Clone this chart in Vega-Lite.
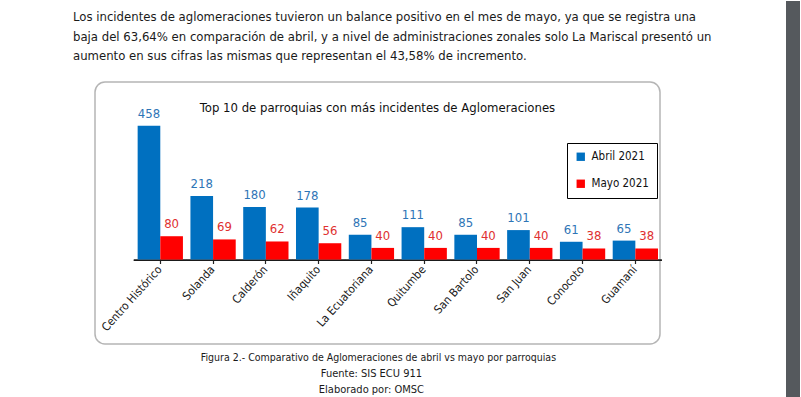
{
  "$schema": "https://vega.github.io/schema/vega-lite/v6.json",
  "background": "white",
  "padding": {"left": 73, "top": 0, "right": 0, "bottom": 0},
  "config": {
    "font": "DejaVu Sans Condensed",
    "concat": {"spacing": 0},
    "view": {"stroke": null}
  },
  "spacing": 73,
  "hconcat": [
    {
      "spacing": 18,
      "vconcat": [
        {
          "width": 565,
          "height": 1,
          "title": {
            "text": [
              "Los incidentes de aglomeraciones tuvieron un balance positivo en el mes de mayo, ya que se registra una",
              "baja del 63,64% en comparación de abril, y a nivel de administraciones zonales solo La Mariscal presentó un",
              "aumento en sus cifras las mismas que representan el 43,58% de incremento."
            ],
            "orient": "bottom",
            "anchor": "start",
            "frame": "group",
            "dx": -22,
            "fontSize": 13,
            "fontWeight": "normal",
            "lineHeight": 19.5,
            "color": "#1a1a1a",
            "offset": 9
          },
          "data": {"values": [{"vacio": 0}]},
          "mark": {"type": "rule", "opacity": 0},
          "encoding": {}
        },
        {
          "title": {
            "text": ["Fuente: SIS ECU 911", "Elaborado por: OMSC"],
            "orient": "bottom",
            "anchor": "middle",
            "dx": -7,
            "fontSize": 11,
            "fontWeight": "normal",
            "lineHeight": 16,
            "color": "#1a1a1a",
            "offset": 5
          },
          "vconcat": [
            {
              "title": {
                "text": "Figura 2.- Comparativo de Aglomeraciones de abril vs mayo por parroquias",
                "orient": "bottom",
                "anchor": "middle",
                "fontSize": 10.5,
                "fontWeight": "normal",
                "color": "#1a1a1a",
                "offset": 8
              },
              "vconcat": [
                {
                  "width": 565,
                  "height": 262,
                  "view": {"stroke": "#b5b5b5", "strokeWidth": 1.5, "cornerRadius": 10, "fill": "white"},
                  "title": {
                    "text": "Top 10 de parroquias con más incidentes de Aglomeraciones",
                    "anchor": "middle",
                    "offset": -33,
                    "fontSize": 13,
                    "fontWeight": "normal",
                    "color": "#111111"
                  },
                  "data": {
                    "values": [
                      {"parroquia": "Centro Histórico", "mes": "Abril 2021", "valor": 458},
                      {"parroquia": "Centro Histórico", "mes": "Mayo 2021", "valor": 80},
                      {"parroquia": "Solanda", "mes": "Abril 2021", "valor": 218},
                      {"parroquia": "Solanda", "mes": "Mayo 2021", "valor": 69},
                      {"parroquia": "Calderón", "mes": "Abril 2021", "valor": 180},
                      {"parroquia": "Calderón", "mes": "Mayo 2021", "valor": 62},
                      {"parroquia": "Iñaquito", "mes": "Abril 2021", "valor": 178},
                      {"parroquia": "Iñaquito", "mes": "Mayo 2021", "valor": 56},
                      {"parroquia": "La Ecuatoriana", "mes": "Abril 2021", "valor": 85},
                      {"parroquia": "La Ecuatoriana", "mes": "Mayo 2021", "valor": 40},
                      {"parroquia": "Quitumbe", "mes": "Abril 2021", "valor": 111},
                      {"parroquia": "Quitumbe", "mes": "Mayo 2021", "valor": 40},
                      {"parroquia": "San Bartolo", "mes": "Abril 2021", "valor": 85},
                      {"parroquia": "San Bartolo", "mes": "Mayo 2021", "valor": 40},
                      {"parroquia": "San Juan", "mes": "Abril 2021", "valor": 101},
                      {"parroquia": "San Juan", "mes": "Mayo 2021", "valor": 40},
                      {"parroquia": "Conocoto", "mes": "Abril 2021", "valor": 61},
                      {"parroquia": "Conocoto", "mes": "Mayo 2021", "valor": 38},
                      {"parroquia": "Guamaní", "mes": "Abril 2021", "valor": 65},
                      {"parroquia": "Guamaní", "mes": "Mayo 2021", "valor": 38}
                    ]
                  },
                  "encoding": {
                    "x": {
                      "field": "parroquia",
                      "type": "nominal",
                      "sort": null,
                      "scale": {"type": "band", "paddingInner": 0.142, "paddingOuter": 0.423, "align": 0.955},
                      "axis": {
                        "title": null,
                        "domain": false,
                        "offset": -84.5,
                        "labelAngle": -48,
                        "labelAlign": "right",
                        "labelBaseline": "middle",
                        "labelFontSize": 11.5,
                        "labelColor": "#1a1a1a",
                        "labelPadding": 4,
                        "tickColor": "#222222",
                        "tickSize": 4,
                        "tickWidth": 1.2
                      }
                    },
                    "y": {
                      "field": "valor",
                      "type": "quantitative",
                      "scale": {"domain": [-289, 608], "nice": false, "zero": false},
                      "axis": null
                    }
                  },
                  "layer": [
                    {
                      "mark": {"type": "bar", "width": {"band": 1.17}, "color": "#1a1a1a"},
                      "encoding": {
                        "y": {"datum": 0},
                        "y2": {"datum": -5}
                      }
                    },
                    {
                      "mark": {"type": "bar"},
                      "encoding": {
                        "xOffset": {
                          "field": "mes",
                          "type": "nominal",
                          "sort": ["Abril 2021", "Mayo 2021"],
                          "scale": {"paddingInner": 0, "paddingOuter": 0}
                        },
                        "y2": {"datum": 0},
                        "color": {
                          "field": "mes",
                          "type": "nominal",
                          "scale": {"domain": ["Abril 2021", "Mayo 2021"], "range": ["#0070C0", "#FF0000"]},
                          "legend": {
                            "title": null,
                            "orient": "none",
                            "legendX": 472,
                            "legendY": 61,
                            "direction": "vertical",
                            "strokeColor": "#000000",
                            "fillColor": "#ffffff",
                            "padding": 8,
                            "symbolType": "square",
                            "symbolSize": 70,
                            "symbolStrokeWidth": 0,
                            "symbolOpacity": 1,
                            "rowPadding": 14,
                            "labelFontSize": 11.5,
                            "labelColor": "#111111",
                            "labelOffset": 5
                          }
                        }
                      }
                    },
                    {
                      "mark": {"type": "text", "baseline": "bottom", "dy": -5, "fontSize": 13},
                      "encoding": {
                        "xOffset": {
                          "field": "mes",
                          "type": "nominal",
                          "sort": ["Abril 2021", "Mayo 2021"]
                        },
                        "text": {"field": "valor", "type": "quantitative"},
                        "color": {
                          "field": "mes",
                          "type": "nominal",
                          "scale": {"domain": ["Abril 2021", "Mayo 2021"], "range": ["#2E75B6", "#E03030"]},
                          "legend": null
                        }
                      }
                    }
                  ],
                  "resolve": {"scale": {"color": "independent"}}
                }
              ]
            }
          ]
        }
      ]
    },
    {
      "width": 14,
      "height": 397,
      "view": {"fill": "#55595d", "stroke": null},
      "data": {"values": [{"borde": 0}]},
      "mark": {"type": "rule", "opacity": 0},
      "encoding": {}
    }
  ]
}
